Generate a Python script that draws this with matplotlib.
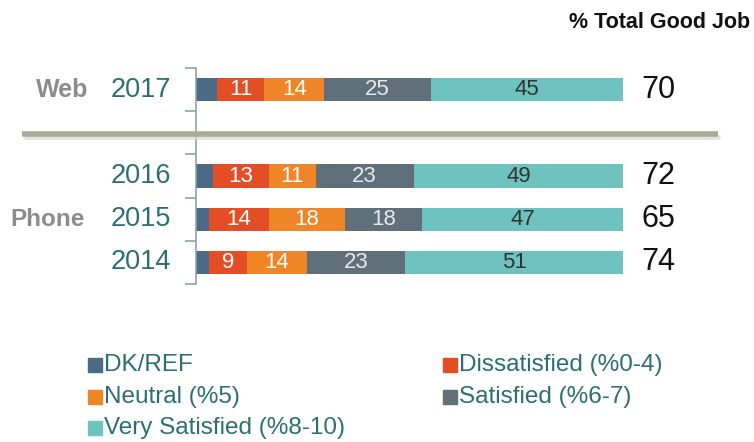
import matplotlib.pyplot as plt
from matplotlib.patches import Rectangle
from matplotlib.lines import Line2D

plt.rcParams['font.family'] = ['Liberation Sans', 'DejaVu Sans']

years = ["2017", "2016", "2015", "2014"]
modes = ["Web", "Phone"]
categories = ["DK/REF", "Dissatisfied (%0-4)", "Neutral (%5)", "Satisfied (%6-7)", "Very Satisfied (%8-10)"]
dk_ref = [5, 4, 3, 3]
dissatisfied = [11, 13, 14, 9]
neutral = [14, 11, 18, 14]
satisfied = [25, 23, 18, 23]
very_satisfied = [45, 49, 47, 51]
total_good = [70, 72, 65, 74]

colors = ["#4b6a86", "#e34e26", "#ee8526", "#5f707b", "#6ec2bf"]
text_colors = [None, "white", "white", "#e8e8e8", "#333333"]
teal = "#2b6f76"
axis_col = "#8ea2ac"

# row positions (slot 1 is the gap between web and phone)
pos = [0, 2, 3, 4]

fig = plt.figure(figsize=(7.54, 4.42), dpi=100)
ax = fig.add_axes([196 / 754, 1 - 284 / 442, 427 / 754, 216 / 442])

series = [dk_ref, dissatisfied, neutral, satisfied, very_satisfied]
left = [0, 0, 0, 0]
for s, vals in enumerate(series):
    ax.barh(pos, vals, left=left, height=0.54, color=colors[s], edgecolor="none")
    if text_colors[s]:
        for i, v in enumerate(vals):
            ax.text(left[i] + v / 2, pos[i], str(v), ha="center", va="center",
                    fontsize=16, color=text_colors[s])
    left = [l + v for l, v in zip(left, vals)]

ax.set_xlim(0, 100)
ax.set_ylim(4.5, -0.5)
ax.set_yticks([-0.5, 0.5, 1.5, 2.5, 3.5, 4.5])
ax.set_yticklabels([])
ax.tick_params(axis="y", length=8, width=1.2, color=axis_col, direction="out")
ax.set_xticks([])
for side in ["top", "right", "bottom"]:
    ax.spines[side].set_visible(False)
ax.spines["left"].set_color(axis_col)
ax.spines["left"].set_linewidth(1.2)

tr = ax.get_yaxis_transform()
for i, y in enumerate(years):
    ax.text(-0.058, pos[i], y, transform=tr, ha="right", va="center",
            fontsize=19.5, color=teal)
    ax.text(1.043, pos[i], str(total_good[i]), transform=tr, ha="left",
            va="center", fontsize=22, color="#111111")

ax.text(-0.253, pos[0], modes[0], transform=tr, ha="right", va="center",
        fontsize=18, fontweight="bold", color="#8c8c8c")
ax.text(-0.26, pos[2], modes[1], transform=tr, ha="right", va="center",
        fontsize=17.5, fontweight="bold", color="#8c8c8c")

fig.text(750 / 754, 1 - 22 / 442, "% Total Good Job", ha="right", va="center",
         fontsize=15.5, fontweight="bold", color="#111111")

# separator between web and phone
ysep = 1 - 134 / 442
fig.add_artist(Line2D([24 / 754, 720 / 754], [ysep - 0.006, ysep - 0.006],
                      color="#d6d6d6", lw=3.5, alpha=0.7, solid_capstyle="butt"))
fig.add_artist(Line2D([22 / 754, 718 / 754], [ysep, ysep],
                      color="#a9ab93", lw=4, solid_capstyle="butt"))

# legend
leg_x = [88, 443]
leg_y = [365, 397, 428]
order = [(0, 0, 0), (1, 1, 0), (2, 0, 1), (3, 1, 1), (4, 0, 2)]
for k, c, r in order:
    x = leg_x[c] / 754
    y = 1 - leg_y[r] / 442
    fig.add_artist(Rectangle((x, y - 7 / 442), 14 / 754, 14 / 442,
                             transform=fig.transFigure, color=colors[k]))
    fig.text(x + 16 / 754, y, categories[k], ha="left", va="center",
             fontsize=17.5, color=teal)

fig.savefig("out.png", dpi=100)
